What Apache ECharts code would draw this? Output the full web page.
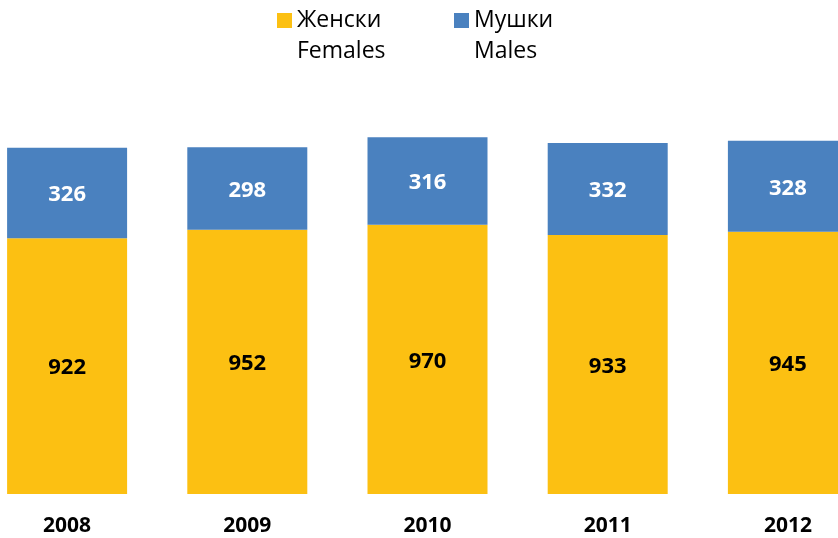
<!DOCTYPE html>
<html>
<head>
<meta charset="utf-8">
<script src="https://cdn.jsdelivr.net/npm/echarts@6/dist/echarts.min.js"></script>
<style>html,body{margin:0;padding:0;background:#fff}#c{width:838px;height:538px}</style>
</head>
<body>
<div id="c"></div>
<script>
const categories = ['2008', '2009', '2010', '2011', '2012'];
const females = [922, 952, 970, 933, 945];
const males = [326, 298, 316, 332, 328];
const femaleName = 'Женски';
const maleName = 'Мушки';
const legendLabels = { 'Женски': '\nЖенски\nFemales', 'Мушки': '\nМушки\nMales' };

const FONT = '"Open Sans", "Noto Sans", sans-serif';
const chart = echarts.init(document.getElementById('c'), null, { renderer: 'canvas' });
const legendBase = {
  orient: 'horizontal',
  itemWidth: 15,
  itemHeight: 15,
  icon: 'rect',
  formatter: n => legendLabels[n],
  textStyle: { fontFamily: FONT, fontSize: 23, color: '#000', lineHeight: 31 }
};
chart.setOption({
  animation: false,
  backgroundColor: '#fff',
  legend: [
    Object.assign({}, legendBase, { data: [femaleName], left: 272, top: -31 }),
    Object.assign({}, legendBase, { data: [maleName], left: 449, top: -31 })
  ],
  grid: { left: -23, right: -40, top: 105.5, bottom: 44, outerBoundsMode: 'none', containLabel: false },
  xAxis: {
    type: 'category',
    data: categories,
    axisLine: { show: false },
    axisTick: { show: false },
    axisLabel: { margin: 22, fontFamily: FONT, fontWeight: 'bold', fontSize: 21, color: '#000' }
  },
  yAxis: { type: 'value', min: 0, max: 1400, show: false, splitLine: { show: false } },
  series: [
    {
      name: femaleName, type: 'bar', stack: 'total', data: females, barWidth: 120,
      itemStyle: { color: '#FCC012' },
      label: { show: true, position: 'inside', offset: [0, 2], fontFamily: FONT, fontWeight: 'bold', fontSize: 22, color: '#000' }
    },
    {
      name: maleName, type: 'bar', stack: 'total', data: males, barWidth: 120,
      itemStyle: { color: '#4A81BF' },
      label: { show: true, position: 'inside', offset: [0, 2], fontFamily: FONT, fontWeight: 'bold', fontSize: 22, color: '#fff' }
    }
  ]
});
</script>
</body>
</html>
